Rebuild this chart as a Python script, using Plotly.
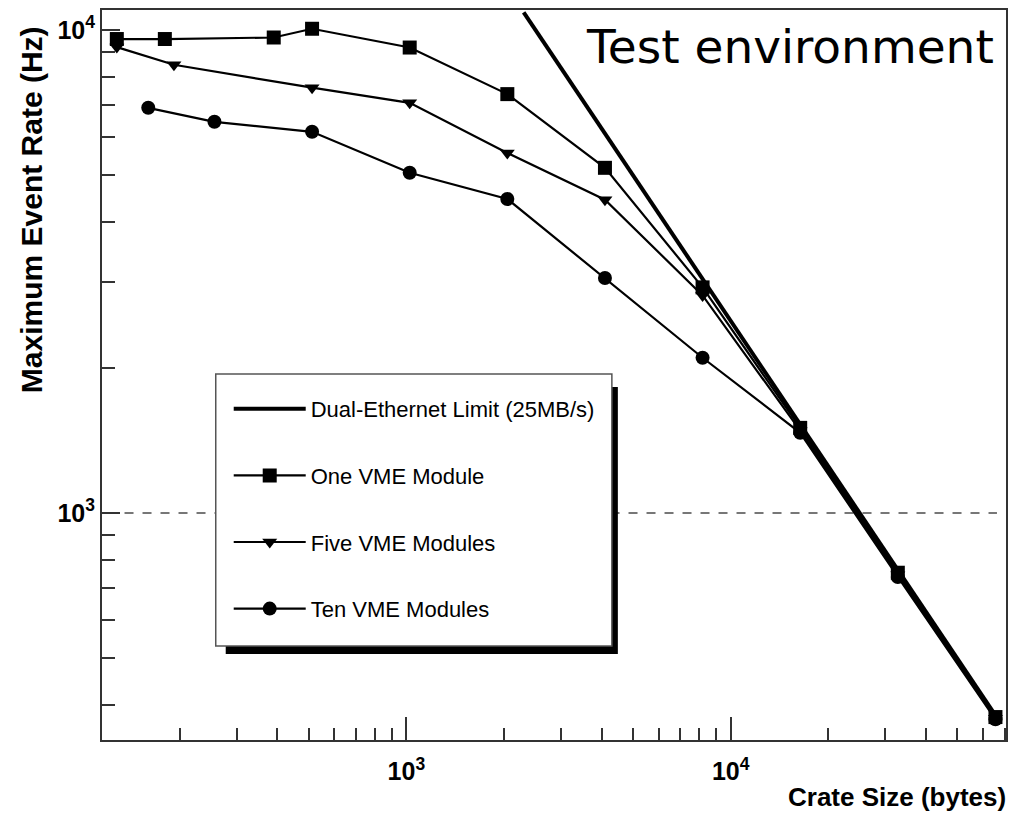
import plotly.graph_objects as go

# ---- data ----
limit_x = [2300, 65536]
limit_y = [10870, 381]

one_x = [128, 180, 390, 512, 1024, 2048, 4096, 8192, 16384, 32768, 65536]
one_y = [9570, 9570, 9640, 10050, 9190, 7360, 5180, 2930, 1500, 752, 378]

five_x = [128, 192, 512, 1024, 2048, 4096, 8192, 16384, 32768, 65536]
five_y = [9210, 8465, 7590, 7060, 5560, 4450, 2820, 1480, 745, 376]

ten_x = [160, 256, 512, 1024, 2048, 4096, 8192, 16384, 32768, 65536]
ten_y = [6895, 6450, 6150, 5060, 4465, 3065, 2095, 1465, 737, 374]

x_major = [1000, 10000]
x_major_text = ["10<sup>3</sup>", "10<sup>4</sup>"]
y_major = [1000, 10000]
y_major_text = ["10<sup>3</sup>", "10<sup>4</sup>"]
x_minor = [200, 300, 400, 500, 600, 700, 800, 900,
           2000, 3000, 4000, 5000, 6000, 7000, 8000, 9000,
           20000, 30000, 40000, 50000, 60000, 70000]
y_minor = [400, 500, 600, 700, 800, 900,
           2000, 3000, 4000, 5000, 6000, 7000, 8000, 9000]

names = ["Dual-Ethernet Limit (25MB/s)", "One VME Module",
         "Five VME Modules", "Ten VME Modules"]

# ---- layout geometry (pixels) ----
W, H = 1012, 814
ML, MR, MT, MB = 102, 4, 10, 74
PW, PH = W - ML - MR, H - MT - MB


def px(x):
    return (x - ML) / PW


def py(y):
    return (H - MB - y) / PH


fig = go.Figure()

fig.add_trace(go.Scatter(
    x=one_x, y=one_y, name=names[1], mode="lines+markers",
    line=dict(color="black", width=2.2),
    marker=dict(symbol="square", size=14, color="black"),
    legendgroup="b", legendrank=2))
fig.add_trace(go.Scatter(
    x=five_x, y=five_y, name=names[2], mode="lines+markers",
    line=dict(color="black", width=2.2),
    marker=dict(symbol="triangle-down", size=13, color="black"),
    legendgroup="c", legendrank=3))
fig.add_trace(go.Scatter(
    x=ten_x, y=ten_y, name=names[3], mode="lines+markers",
    line=dict(color="black", width=2.2),
    marker=dict(symbol="circle", size=14, color="black"),
    legendgroup="d", legendrank=4))
fig.add_trace(go.Scatter(
    x=limit_x, y=limit_y, name=names[0], mode="lines",
    line=dict(color="black", width=4),
    legendgroup="a", legendrank=1))

axis_common = dict(
    type="log", showgrid=False, zeroline=False,
    showline=True, linecolor="#333", linewidth=2, mirror=True,
    ticks="inside", tickcolor="#333", tickwidth=2,
    tickfont=dict(family="Liberation Sans", size=25, color="black", weight="bold"),
)

fig.update_layout(
    width=W, height=H,
    margin=dict(l=ML, r=MR, t=MT, b=MB, pad=0),
    paper_bgcolor="white", plot_bgcolor="white",
    hovermode=False,
    xaxis=dict(
        axis_common,
        range=[2.0615, 4.849],
        tickmode="array", tickvals=x_major, ticktext=x_major_text, ticklen=23,
        ticklabelstandoff=8,
        minor=dict(tickmode="array", tickvals=x_minor, ticks="inside",
                   ticklen=12, tickwidth=2, tickcolor="#333"),
    ),
    yaxis=dict(
        axis_common,
        range=[2.530, 4.041],
        tickmode="array", tickvals=y_major, ticktext=y_major_text, ticklen=18,
        minor=dict(tickmode="array", tickvals=y_minor, ticks="inside",
                   ticklen=13, tickwidth=2, tickcolor="#333"),
    ),
    legend=dict(
        x=px(229), y=py(388), xanchor="left", yanchor="top",
        bgcolor="rgba(0,0,0,0)", borderwidth=0,
        font=dict(family="Liberation Sans", size=22, color="black"),
        tracegroupgap=35, traceorder="grouped", itemwidth=72,
    ),
    shapes=[
        # dashed reference line at 10^3
        dict(type="line", xref="paper", yref="y", x0=0.005, x1=0.99,
             y0=1000, y1=1000, line=dict(color="#777", width=2, dash="dash"),
             layer="below"),
        # legend shadow
        dict(type="rect", xref="paper", yref="paper",
             x0=px(226), x1=px(619), y0=py(654), y1=py(387),
             fillcolor="black", line=dict(width=0), layer="above"),
        # legend box
        dict(type="rect", xref="paper", yref="paper",
             x0=px(216), x1=px(613), y0=py(646), y1=py(374),
             fillcolor="white", line=dict(color="#555", width=1.5),
             layer="above"),
    ],
    annotations=[
        dict(text="Maximum Event Rate (Hz)", textangle=-90,
             xref="paper", yref="paper", x=px(31), y=py(210),
             xanchor="center", yanchor="middle", showarrow=False,
             font=dict(family="Liberation Sans", size=30, color="black",
                       weight="bold")),
        dict(text="Crate Size (bytes)",
             xref="paper", yref="paper", x=px(1010), y=py(797),
             xanchor="right", yanchor="middle", showarrow=False,
             font=dict(family="Liberation Sans", size=26, color="black",
                       weight="bold")),
        dict(text="Test environment",
             xref="paper", yref="paper", x=px(998), y=py(46),
             xanchor="right", yanchor="middle", showarrow=False,
             font=dict(family="DejaVu Sans", size=47, color="black")),
    ],
)

fig.write_html(
    "out.html",
    config={"displayModeBar": False, "staticPlot": True},
    post_script="document.body.style.margin='0';"
                "document.body.style.overflow='hidden';",
)
